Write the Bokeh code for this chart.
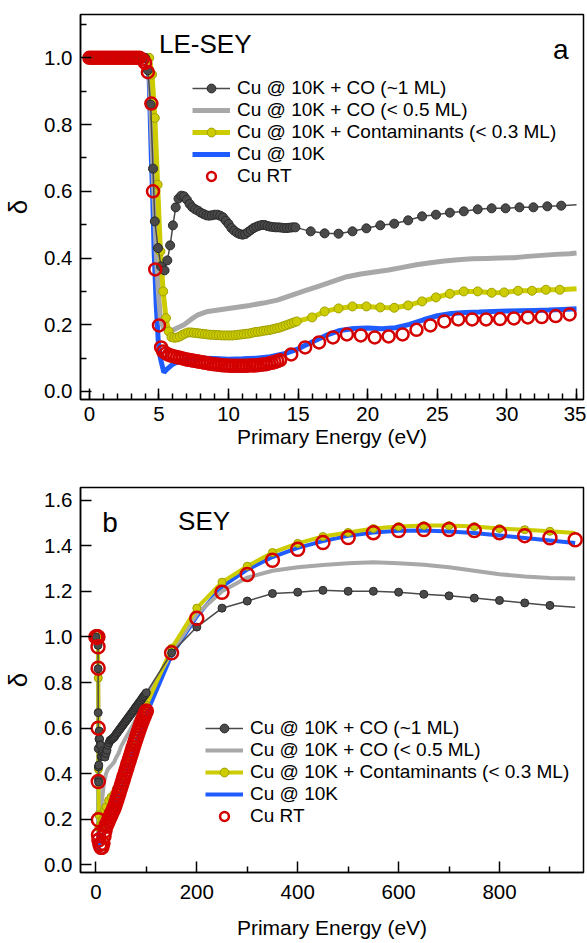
from bokeh.plotting import figure
from bokeh.layouts import column
from bokeh.models import FixedTicker, PrintfTickFormatter, Legend, LegendItem, Label, Range1d
from bokeh.embed import file_html
from bokeh.resources import INLINE

FONT = "Liberation Sans"

series_labels = ["Cu @ 10K + CO (~1 ML)", "Cu @ 10K + CO (< 0.5 ML)",
                 "Cu @ 10K + Contaminants (< 0.3 ML)", "Cu @ 10K", "Cu RT"]

# ---------------- Panel a : LE-SEY ----------------
le_co1_x = [0.0, 0.5, 1.0, 1.5, 2.0, 2.5, 3.0, 3.5, 4.0, 4.2, 4.4, 4.57, 4.7, 4.93, 5.15, 5.4, 5.6, 5.8, 6.0, 6.2, 6.4,
            6.6, 6.8, 7.0, 7.2, 7.4, 7.6, 7.8, 8.0, 8.2, 8.4, 8.6, 8.8, 9.0, 9.2, 9.4, 9.6, 9.8, 10.0, 10.2, 10.4,
            10.6, 10.8, 11.0, 11.2, 11.4, 11.6, 11.8, 12.0, 12.2, 12.4, 12.6, 12.8, 13.0, 13.2, 13.4, 13.6, 13.8,
            14.0, 14.2, 14.4, 14.6, 14.8, 15.9, 16.9, 17.9, 18.9, 19.9, 20.9, 21.9, 22.9, 23.9, 24.9, 25.9, 26.9,
            27.9, 28.9, 29.9, 30.9, 31.9, 32.9, 33.9, 35.0]
le_co1_y = [1.0, 1.0, 1.0, 1.0, 1.0, 1.0, 1.0, 1.0, 1.0, 0.963, 0.86, 0.668, 0.51, 0.43, 0.375, 0.363, 0.393, 0.438,
            0.498, 0.552, 0.578,
            0.587, 0.585, 0.575, 0.562, 0.552, 0.546, 0.542, 0.536, 0.532, 0.528, 0.527, 0.528, 0.530, 0.530, 0.527,
            0.522, 0.512, 0.502, 0.490, 0.482, 0.476, 0.472, 0.470, 0.472, 0.478, 0.484, 0.490, 0.494, 0.497, 0.499,
            0.499, 0.496, 0.494, 0.493, 0.492, 0.492, 0.491, 0.490, 0.490, 0.491, 0.492, 0.492,
            0.48, 0.474, 0.473, 0.48, 0.489, 0.498, 0.503, 0.513, 0.525, 0.53, 0.536, 0.54, 0.546, 0.549, 0.549,
            0.552, 0.552, 0.555, 0.557, 0.56]

le_co05_x = [0.0, 4.2, 4.35, 4.5, 4.65, 4.8, 4.95, 5.1, 5.3, 5.6, 5.9, 6.3, 6.8, 7.3, 7.8, 8.5, 9.5, 10.5, 11.5, 12.5,
             13.5, 14.5, 15.5, 16.5, 17.5, 18.5, 19.5, 20.5, 21.5, 22.5, 23.5, 24.5, 25.5, 26.5, 27.5, 28.5, 29.5,
             30.5, 31.5, 32.5, 33.5, 34.5, 35.0]
le_co05_y = [1.0, 1.0, 0.92, 0.75, 0.58, 0.42, 0.3, 0.22, 0.19, 0.183, 0.182, 0.19, 0.2, 0.216, 0.23, 0.24, 0.246,
             0.252, 0.258, 0.265, 0.274, 0.288, 0.302, 0.316, 0.33, 0.344, 0.352, 0.358, 0.364, 0.372, 0.38, 0.386,
             0.391, 0.395, 0.398, 0.399, 0.4, 0.401, 0.405, 0.408, 0.411, 0.413, 0.415]

le_cont_x = [0.0, 0.5, 1.0, 1.5, 2.0, 2.5, 3.0, 3.5, 4.0, 4.3, 4.5, 4.7, 4.9, 5.1, 5.3, 5.5, 5.7, 5.9,
             6.1, 6.3, 6.5, 6.7, 6.9, 7.1, 7.3, 7.5, 7.7, 7.9, 8.1, 8.3, 8.5, 8.7, 8.9, 9.1, 9.3, 9.5, 9.7, 9.9,
             10.1, 10.3, 10.5, 10.7, 10.9, 11.1, 11.3, 11.5, 11.7, 11.9, 12.1, 12.3, 12.5, 12.7, 12.9, 13.1, 13.3,
             13.5, 13.7, 13.9, 14.1, 14.3, 14.5, 14.7,
             14.9, 16.0, 16.9, 17.9, 18.9, 19.9, 20.9, 21.9, 22.9, 23.9, 24.9, 25.9, 26.9, 27.9, 28.9, 29.8, 30.8,
             31.8, 32.8, 33.8, 35.0]
le_cont_y = [1.0, 1.0, 1.0, 1.0, 1.0, 1.0, 1.0, 1.0, 1.0, 1.0, 0.95, 0.82, 0.62, 0.42, 0.3, 0.22, 0.18, 0.163,
             0.161, 0.162, 0.165, 0.170, 0.174, 0.177, 0.177, 0.176, 0.175, 0.174, 0.173, 0.172, 0.171, 0.170,
             0.170, 0.169, 0.169, 0.168, 0.168, 0.168, 0.168, 0.168, 0.169, 0.170, 0.171, 0.172, 0.173, 0.174,
             0.176, 0.178, 0.179, 0.180, 0.182, 0.183, 0.184, 0.186, 0.188, 0.190, 0.192, 0.195, 0.198, 0.201,
             0.204, 0.207,
             0.21, 0.222, 0.24, 0.249, 0.255, 0.255, 0.252, 0.251, 0.258, 0.27, 0.282, 0.293, 0.3, 0.3, 0.296,
             0.297, 0.302, 0.302, 0.305, 0.305, 0.308]

le_10k_x = [0.0, 4.1, 4.3, 4.45, 4.55, 4.65, 4.8, 4.95, 5.1, 5.35, 5.6, 6.0, 6.5, 7.0, 8.0, 9.0, 10.0, 11.0, 12.0,
            13.0, 14.0, 15.0, 16.0, 17.0, 18.0, 19.0, 20.0, 21.0, 22.0, 23.0, 24.0, 25.0, 26.0, 27.0, 28.0, 29.0,
            30.0, 31.0, 32.0, 33.0, 34.0, 35.0]
le_10k_y = [1.0, 1.0, 0.93, 0.7, 0.58, 0.42, 0.26, 0.15, 0.1, 0.057, 0.068, 0.082, 0.092, 0.097, 0.100, 0.099, 0.097,
            0.098, 0.100, 0.104, 0.113, 0.128, 0.148, 0.168, 0.183, 0.189, 0.190, 0.188, 0.191, 0.201, 0.215,
            0.227, 0.234, 0.237, 0.238, 0.240, 0.241, 0.242, 0.243, 0.244, 0.246, 0.248]

le_rt_x = [0.0, 0.2, 0.4, 0.6, 0.8, 1.0, 1.2, 1.4, 1.6, 1.8, 2.0, 2.2, 2.4, 2.6, 2.8, 3.0, 3.2, 3.4, 3.6, 3.8, 4.0,
           4.2, 4.45, 4.57, 4.73, 5.0, 5.15,
           5.3, 5.5, 5.7, 5.9, 6.1, 6.3, 6.5, 6.7, 6.9, 7.1, 7.3, 7.5, 7.7, 7.9, 8.1, 8.3, 8.5, 8.7, 8.9, 9.1, 9.3,
           9.5, 9.7, 9.9, 10.1, 10.3, 10.5, 10.7, 10.9, 11.1, 11.3, 11.5, 11.7, 11.9, 12.1, 12.3, 12.5, 12.7,
           12.9, 13.1, 13.3, 13.5, 13.7,
           14.5, 15.5, 16.5, 17.5, 18.5, 19.5, 20.5, 21.5, 22.5, 23.5, 24.5, 25.5, 26.5, 27.5, 28.5, 29.5, 30.5,
           31.5, 32.5, 33.5, 34.5]
le_rt_y = [1.0, 1.0, 1.0, 1.0, 1.0, 1.0, 1.0, 1.0, 1.0, 1.0, 1.0, 1.0, 1.0, 1.0, 1.0, 1.0, 1.0, 1.0, 1.0, 0.995, 0.985,
           0.957, 0.863, 0.6, 0.366, 0.198, 0.132,
           0.120, 0.114, 0.110, 0.107, 0.105, 0.103, 0.101, 0.099, 0.097, 0.095, 0.094, 0.092, 0.091, 0.089,
           0.088, 0.086, 0.085, 0.083, 0.082, 0.081, 0.080, 0.079, 0.078, 0.078, 0.077, 0.077, 0.077, 0.077,
           0.077, 0.077, 0.077, 0.078, 0.078, 0.078, 0.079, 0.080, 0.081, 0.082, 0.084, 0.086, 0.088, 0.091,
           0.094,
           0.111, 0.132, 0.147, 0.162, 0.171, 0.168, 0.162, 0.165, 0.171, 0.185, 0.198, 0.21, 0.216, 0.216,
           0.216, 0.217, 0.219, 0.222, 0.223, 0.226, 0.231]

# ---------------- Panel b : SEY ----------------
sey_co1_x = [0, 4.2, 4.4, 4.57, 4.7, 4.93, 5.15, 5.4, 5.8, 6.2, 6.6, 7.4, 8.6, 9.5, 10.7, 11.4, 12.4, 14, 16, 18,
             20, 22, 24, 26, 28, 30, 32, 34, 36, 38, 40, 42, 44, 46, 48, 50, 52, 54, 56, 58, 60, 62, 64, 66, 68,
             70, 72, 74, 76, 78, 80, 82, 84, 86, 88, 90, 92, 94, 96, 98, 100, 150, 200, 250,
             300, 350, 400, 450, 500, 550, 600, 650, 700, 750, 800, 850, 900, 950]
sey_co1_y = [1.0, 0.963, 0.86, 0.668, 0.51, 0.43, 0.375, 0.363, 0.438, 0.552, 0.587, 0.552, 0.527, 0.525, 0.475,
             0.478, 0.5, 0.49, 0.48, 0.473, 0.489, 0.503, 0.525, 0.536, 0.546, 0.549, 0.552, 0.556, 0.56, 0.566,
             0.573, 0.579, 0.585, 0.591, 0.597, 0.603, 0.609, 0.615, 0.621, 0.627, 0.633, 0.639, 0.645, 0.651,
             0.657, 0.663, 0.669, 0.675, 0.681, 0.688, 0.694, 0.700, 0.706, 0.712, 0.718, 0.724, 0.731, 0.737,
             0.743, 0.749, 0.755, 0.93, 1.043, 1.126, 1.157,
             1.19, 1.196, 1.204, 1.2, 1.2, 1.196, 1.187, 1.18, 1.17, 1.16, 1.149, 1.138, 1.13]

sey_co05_x = [0, 4.2, 4.65, 5.1, 5.6, 6.3, 8, 10, 13, 16, 20, 24, 28, 32, 36, 40, 45, 50, 60, 70, 80, 90, 100, 150,
              200, 250, 300, 350, 400, 450, 500, 550, 600, 650, 700, 750, 800, 850, 900, 950]
sey_co05_y = [1.0, 1.0, 0.58, 0.22, 0.183, 0.19, 0.22, 0.25, 0.3, 0.36, 0.4, 0.42, 0.43, 0.44, 0.45, 0.47, 0.49,
              0.52, 0.56, 0.6, 0.64, 0.69, 0.73, 0.93, 1.1, 1.2, 1.26, 1.29, 1.305, 1.315, 1.323, 1.327, 1.323,
              1.316, 1.305, 1.29, 1.275, 1.265, 1.258, 1.256]

sey_cont_x = [0, 4.3, 4.7, 5.1, 5.5, 5.9, 8, 10, 12, 14, 17, 20, 25, 30, 35, 40, 50, 60, 70, 80, 90, 100, 150, 200,
              250, 300, 350, 400, 450, 500, 550, 600, 650, 700, 750, 800, 850, 900, 950]
sey_cont_y = [1.0, 1.0, 0.82, 0.42, 0.22, 0.163, 0.173, 0.168, 0.18, 0.2, 0.24, 0.255, 0.282, 0.297, 0.308, 0.33,
              0.39, 0.46, 0.53, 0.6, 0.65, 0.70, 0.95, 1.126, 1.24, 1.31, 1.37, 1.41, 1.44, 1.458, 1.475, 1.484,
              1.488, 1.488, 1.484, 1.475, 1.47, 1.463, 1.455]

sey_10k_x = [0, 4.1, 4.5, 4.9, 5.35, 7, 10, 15, 20, 25, 30, 35, 40, 50, 60, 70, 80, 90, 100, 150, 200, 250, 300,
             350, 400, 450, 500, 550, 600, 650, 700, 750, 800, 850, 900, 950]
sey_10k_y = [1.0, 1.0, 0.62, 0.2, 0.057, 0.097, 0.097, 0.128, 0.19, 0.227, 0.241, 0.248, 0.27, 0.33, 0.4, 0.47,
             0.54, 0.6, 0.66, 0.92, 1.09, 1.22, 1.295, 1.35, 1.39, 1.42, 1.443, 1.458, 1.465, 1.466, 1.462,
             1.455, 1.445, 1.434, 1.423, 1.412]

sey_rt_x = [0, 1, 2, 3, 4, 4.2, 4.45, 4.57, 4.73, 5.0, 5.15, 6, 8, 10, 12, 14, 16, 18, 20, 22, 24, 26, 28, 30, 32,
            34, 36, 38, 40, 42, 44, 46, 48, 50, 52, 54, 56, 58, 60, 62, 64, 66, 68, 70, 72, 74, 76, 78, 80, 82, 84,
            86, 88, 90, 92, 94, 96, 98, 100, 150, 200, 250, 300, 350, 400, 450, 500, 550,
            600, 650, 700, 750, 800, 850, 900, 950]
sey_rt_y = [1.0, 1.0, 1.0, 1.0, 1.0, 0.957, 0.863, 0.6, 0.366, 0.198, 0.132, 0.11, 0.09, 0.078, 0.078, 0.095,
            0.125, 0.15, 0.17, 0.18, 0.19, 0.2, 0.21, 0.22, 0.23, 0.24, 0.25, 0.262, 0.275, 0.289, 0.303, 0.317,
            0.331, 0.345, 0.359, 0.373, 0.388, 0.402, 0.416, 0.431, 0.445, 0.459, 0.473, 0.487, 0.501, 0.515,
            0.529, 0.543, 0.557, 0.57, 0.583, 0.596, 0.608, 0.62, 0.632, 0.643, 0.654, 0.665, 0.675,
            0.93, 1.082, 1.196, 1.274, 1.336, 1.384, 1.414, 1.436, 1.457, 1.466, 1.471, 1.471, 1.466, 1.457, 1.444,
            1.435, 1.426]

for a, b in [(le_co1_x, le_co1_y), (le_co05_x, le_co05_y), (le_cont_x, le_cont_y), (le_10k_x, le_10k_y),
             (le_rt_x, le_rt_y), (sey_co1_x, sey_co1_y), (sey_co05_x, sey_co05_y), (sey_cont_x, sey_cont_y),
             (sey_10k_x, sey_10k_y), (sey_rt_x, sey_rt_y)]:
    assert len(a) == len(b), (len(a), len(b))

# tick definitions
a_xticks = [0, 5, 10, 15, 20, 25, 30, 35]
a_xminor = [0, 1, 2, 3, 4, 5, 6, 7, 8, 9, 10, 11, 12, 13, 14, 15, 16, 17, 18, 19, 20, 21, 22, 23, 24, 25, 26, 27,
            28, 29, 30, 31, 32, 33, 34, 35]
a_yticks = [0.0, 0.2, 0.4, 0.6, 0.8, 1.0]
a_yminor = [0.1, 0.3, 0.5, 0.7, 0.9, 1.1]
b_xticks = [0, 200, 400, 600, 800]
b_xminor = [100, 300, 500, 700, 900]
b_yticks = [0.0, 0.2, 0.4, 0.6, 0.8, 1.0, 1.2, 1.4, 1.6]

C_CO1 = "#4a4a4a"
C_CO1_EDGE = "#2a2a2a"
C_CO05 = "#a8a8a8"
C_CONT = "#cccc00"
C_CONT_EDGE = "#a0a000"
C_10K = "#1f5cff"
C_RT = "#d40000"


def style(p, xt, xm, yt, ym):
    p.grid.visible = False
    p.outline_line_color = "black"
    p.outline_line_width = 1.5
    p.background_fill_color = "white"
    p.border_fill_color = "white"
    for ax in (p.xaxis[0], p.yaxis[0]):
        ax.axis_line_width = 1.5
        ax.axis_line_color = "black"
        ax.major_tick_in = 11
        ax.major_tick_out = 0
        ax.minor_tick_in = 6
        ax.minor_tick_out = 0
        ax.major_tick_line_width = 1.5
        ax.minor_tick_line_width = 1.5
        ax.major_tick_line_color = "black"
        ax.minor_tick_line_color = "black"
        ax.major_label_text_font = FONT
        ax.major_label_text_font_size = "20.5px"
        ax.major_label_text_color = "black"
        ax.axis_label_text_font = FONT
        ax.axis_label_text_font_style = "normal"
        ax.axis_label_text_color = "black"
    p.xaxis.ticker = FixedTicker(ticks=xt, minor_ticks=xm)
    p.yaxis.ticker = FixedTicker(ticks=yt, minor_ticks=ym)
    p.yaxis.formatter = PrintfTickFormatter(format="%.1f")
    p.xaxis.axis_label = "Primary Energy (eV)"
    p.xaxis.axis_label_text_font_size = "21px"
    p.yaxis.axis_label = "δ"
    p.yaxis.axis_label_text_font_size = "26px"
    p.yaxis.major_label_standoff = 8
    p.yaxis.axis_label_standoff = 8


def add_series(p, data, lw_thick, ms, rs):
    (c1x, c1y), (c5x, c5y), (cx, cy), (bx, by), (rx, ry) = data
    r_blue = p.line(bx, by, line_color=C_10K, line_width=lw_thick)
    r_gray = p.line(c5x, c5y, line_color=C_CO05, line_width=lw_thick)
    r_yl = p.line(cx, cy, line_color=C_CONT, line_width=lw_thick)
    r_ym = p.scatter(cx[:-1], cy[:-1], size=ms, fill_color=C_CONT, line_color=C_CONT_EDGE, line_width=1)
    r_dl = p.line(c1x, c1y, line_color=C_CO1, line_width=1.5)
    r_dm = p.scatter(c1x[:-1], c1y[:-1], size=ms, fill_color=C_CO1, line_color=C_CO1_EDGE, line_width=1)
    r_rt = p.scatter(rx, ry, size=rs, fill_color=None, line_color=C_RT, line_width=2.5)
    items = [LegendItem(label=series_labels[0], renderers=[r_dl, r_dm]),
             LegendItem(label=series_labels[1], renderers=[r_gray]),
             LegendItem(label=series_labels[2], renderers=[r_yl, r_ym]),
             LegendItem(label=series_labels[3], renderers=[r_blue]),
             LegendItem(label=series_labels[4], renderers=[r_rt])]
    return items


def make_legend(items, loc):
    leg = Legend(items=items, location=loc)
    leg.padding = 0
    leg.margin = 0
    leg.spacing = 0
    leg.glyph_width = 38
    leg.glyph_height = 22
    leg.label_height = 22
    leg.label_standoff = 7
    leg.label_text_font = FONT
    leg.label_text_font_size = "19px"
    leg.label_text_color = "black"
    leg.border_line_color = None
    leg.background_fill_alpha = 0
    return leg


# ---------- figure a ----------
pa = figure(width=586, height=451, output_backend="svg", toolbar_location=None,
            x_range=Range1d(-0.64, 35.5), y_range=Range1d(-0.024, 1.13),
            min_border_left=78, min_border_right=3, min_border_top=14, min_border_bottom=52)
style(pa, a_xticks, a_xminor, a_yticks, a_yminor)
pa.xaxis.major_label_standoff = 7
pa.xaxis.axis_label_standoff = 1
items_a = add_series(pa, [(le_co1_x, le_co1_y), (le_co05_x, le_co05_y), (le_cont_x, le_cont_y),
                          (le_10k_x, le_10k_y), (le_rt_x, le_rt_y)], 5, 9, 12)
pa.add_layout(make_legend(items_a, (112, 212)))
pa.add_layout(Label(x=5.0, y=1.041, text="LE-SEY", text_font=FONT, text_font_size="26px",
                    text_baseline="alphabetic", text_align="left", text_color="black"))
pa.add_layout(Label(x=33.3, y=1.024, text="a", text_font=FONT, text_font_size="28px",
                    text_baseline="alphabetic", text_align="left", text_color="black"))

# ---------- figure b ----------
pb = figure(width=586, height=492, output_backend="svg", toolbar_location=None,
            x_range=Range1d(-30.5, 966.5), y_range=Range1d(-0.033, 1.655),
            min_border_left=80, min_border_right=1, min_border_top=36, min_border_bottom=71)
style(pb, b_xticks, b_xminor, b_yticks, [])
pb.xaxis.major_label_standoff = 12
pb.xaxis.axis_label_standoff = 14
items_b = add_series(pb, [(sey_co1_x, sey_co1_y), (sey_co05_x, sey_co05_y), (sey_cont_x, sey_cont_y),
                          (sey_10k_x, sey_10k_y), (sey_rt_x, sey_rt_y)], 4, 8, 13)
pb.add_layout(make_legend(items_b, (125, 45)))
pb.add_layout(Label(x=12.8, y=1.5, text="b", text_font=FONT, text_font_size="28px",
                    text_baseline="alphabetic", text_align="left", text_color="black"))
pb.add_layout(Label(x=163, y=1.506, text="SEY", text_font=FONT, text_font_size="26px",
                    text_baseline="alphabetic", text_align="left", text_color="black"))

layout = column(pa, pb, spacing=0)
open("out.html", "w").write(file_html(layout, INLINE))
